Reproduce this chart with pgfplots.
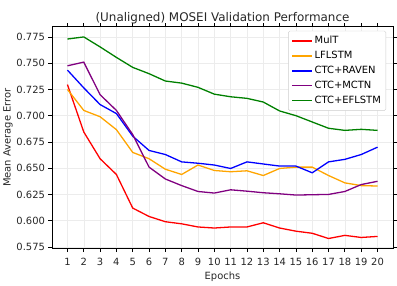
\documentclass[border=0pt]{standalone}
\usepackage{fontspec}
\setmainfont{DejaVu Sans}
\usepackage{pgfplots}
\pgfplotsset{compat=1.18}
\definecolor{mporange}{HTML}{FFA500}
\definecolor{mppurple}{HTML}{800080}
\definecolor{mpgreen}{HTML}{008000}
\begin{document}
\begin{tikzpicture}[x=1pt,y=1pt]
\begin{axis}[
  scale only axis,
  width=343pt, height=223pt,
  xmin=0.05, xmax=20.95,
  ymin=0.5734, ymax=0.7846,
  xtick={1,...,20},
  ytick={0.575,0.600,0.625,0.650,0.675,0.700,0.725,0.750,0.775},
  yticklabel style={/pgf/number format/.cd,fixed,fixed zerofill,precision=3},
  /pgf/number format/assume math mode=true,
  scaled y ticks=false,
  tick align=outside,
  major tick length=3.5pt,
  tick style={black, line width=0.8pt},
  axis line style={black, line width=0.8pt},
  grid=major,
  grid style={gray!15, line width=0.5pt},
  ticklabel style={font=\fontsize{10}{12}\selectfont, text=black!85},
  xticklabel style={inner xsep=0pt, yshift=-2.5pt},
  xlabel={Epochs}, ylabel={Mean Average Error},
  label style={font=\fontsize{10}{12}\selectfont, text=black!85},
  xlabel style={yshift=0pt},
  ylabel style={yshift=-3pt},
  title={(Unaligned) MOSEI Validation Performance},
  title style={font=\fontsize{12}{14}\selectfont, text=black!85, yshift=-6.5pt},
  legend style={at={(1,1)}, anchor=north east, xshift=-7pt, yshift=-4pt,
    font=\fontsize{10}{12}\selectfont, draw=black!20, rounded corners=1.5pt,
    row sep=1pt, inner xsep=3pt, inner ysep=3pt,
    nodes={inner ysep=2pt, text height=7.5pt, text depth=2.5pt}},
  legend cell align=left,
  legend image code/.code={\draw[mark repeat=2,mark phase=2] plot coordinates {(0pt,0pt)(10pt,0pt)(20pt,0pt)};},
  legend image post style={line width=1.5pt},
]
\addplot[color=red, line width=1.3pt] coordinates {(1,0.7296)(2,0.6845)(3,0.659)(4,0.644)(5,0.612)(6,0.604)(7,0.599)(8,0.597)(9,0.594)(10,0.593)(11,0.594)(12,0.594)(13,0.598)(14,0.593)(15,0.590)(16,0.588)(17,0.583)(18,0.586)(19,0.584)(20,0.585)};
\addlegendentry{MulT}
\addplot[color=mporange, line width=1.3pt] coordinates {(1,0.725)(2,0.705)(3,0.699)(4,0.6867)(5,0.665)(6,0.659)(7,0.649)(8,0.644)(9,0.653)(10,0.6478)(11,0.6466)(12,0.6475)(13,0.643)(14,0.6497)(15,0.651)(16,0.651)(17,0.643)(18,0.636)(19,0.6334)(20,0.633)};
\addlegendentry{LFLSTM}
\addplot[color=blue, line width=1.3pt] coordinates {(1,0.7434)(2,0.7265)(3,0.7106)(4,0.702)(5,0.6805)(6,0.6669)(7,0.663)(8,0.656)(9,0.6547)(10,0.653)(11,0.6497)(12,0.656)(13,0.654)(14,0.652)(15,0.652)(16,0.6456)(17,0.656)(18,0.6584)(19,0.663)(20,0.670)};
\addlegendentry{CTC+RAVEN}
\addplot[color=mppurple, line width=1.3pt] coordinates {(1,0.7475)(2,0.751)(3,0.720)(4,0.705)(5,0.682)(6,0.651)(7,0.6397)(8,0.6334)(9,0.6278)(10,0.6263)(11,0.6294)(12,0.6281)(13,0.6266)(14,0.6256)(15,0.6244)(16,0.6247)(17,0.625)(18,0.6278)(19,0.6344)(20,0.6375)};
\addlegendentry{CTC+MCTN}
\addplot[color=mpgreen, line width=1.3pt] coordinates {(1,0.773)(2,0.775)(3,0.7655)(4,0.7555)(5,0.746)(6,0.740)(7,0.733)(8,0.731)(9,0.727)(10,0.7205)(11,0.718)(12,0.7165)(13,0.713)(14,0.7045)(15,0.700)(16,0.694)(17,0.688)(18,0.686)(19,0.687)(20,0.686)};
\addlegendentry{CTC+EFLSTM}
\end{axis}
\path[use as bounding box] ([xshift=-50pt,yshift=-34pt]current axis.south west) rectangle ([xshift=4pt,yshift=27pt]current axis.north east);
\end{tikzpicture}
\end{document}
